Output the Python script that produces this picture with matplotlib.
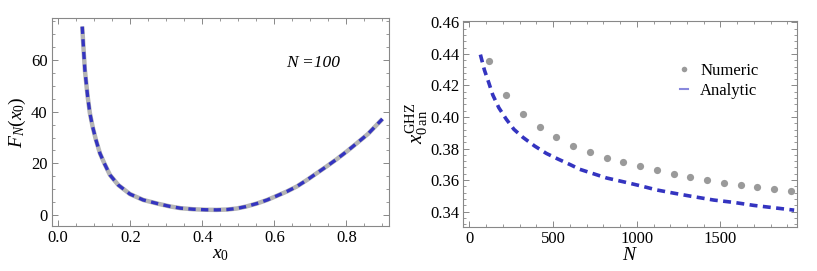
import numpy as np
import matplotlib
matplotlib.use('Agg')
import matplotlib.pyplot as plt
from matplotlib.ticker import MultipleLocator, FormatStrFormatter
from matplotlib.lines import Line2D

plt.rcParams['font.family'] = ['Liberation Serif', 'DejaVu Serif']
plt.rcParams['mathtext.fontset'] = 'custom'
plt.rcParams['mathtext.rm'] = 'Liberation Serif'
plt.rcParams['mathtext.it'] = 'Liberation Serif:italic'
plt.rcParams['mathtext.bf'] = 'Liberation Serif:bold'

# linke Kurve: F_N(x0) bei N=100
x0_werte = [0.0667, 0.0694, 0.074, 0.0817, 0.088, 0.0955, 0.1047, 0.1158, 0.128,
            0.1436, 0.1667, 0.199, 0.236, 0.278, 0.31, 0.34, 0.375, 0.41, 0.44,
            0.47, 0.4956, 0.52, 0.551, 0.58, 0.607, 0.635, 0.662, 0.69, 0.718,
            0.745, 0.773, 0.80, 0.829, 0.86, 0.90]
F_werte = [73.0, 66.5, 56.2, 45.9, 39.4, 34.2, 29.1, 23.9, 20.0,
           15.5, 11.6, 8.1, 5.8, 4.3, 3.3, 2.6, 2.2, 2.0, 1.95,
           2.1, 2.5, 3.2, 4.4, 5.8, 7.4, 9.1, 11.0, 13.5, 16.2,
           18.8, 21.6, 24.5, 27.8, 31.4, 37.2]

# rechte Kurve: numerisch und analytisch
N_num = [120, 220, 320, 420, 520, 620, 720, 820, 920, 1020, 1120, 1220, 1320,
         1420, 1520, 1620, 1720, 1820, 1920]
x_num = [0.4356, 0.414, 0.4019, 0.3935, 0.3871, 0.3818, 0.3778, 0.3742, 0.3712,
         0.3687, 0.3662, 0.364, 0.3617, 0.360, 0.3583, 0.3568, 0.3554, 0.3541, 0.3528]

N_an = [66, 90, 116, 140, 176, 220, 266, 320, 390, 460, 530, 604, 660, 820, 920,
        1020, 1120, 1220, 1320, 1460, 1580, 1700, 1820, 1940]
x_an = [0.4396, 0.4298, 0.4218, 0.414, 0.4059, 0.3987, 0.3922, 0.3871, 0.3816,
        0.3769, 0.3733, 0.3697, 0.3668, 0.3613, 0.3589, 0.3564, 0.3537, 0.3517,
        0.3498, 0.3473, 0.3458, 0.3439, 0.3424, 0.3409]

blau = '#3434c0'
grau = '#b4b4b4'
rahmen = '#888888'

fig = plt.figure(figsize=(8.17, 2.71), dpi=100)
ax1 = fig.add_axes([0.0633, 0.166, 0.4132, 0.7664])
ax2 = fig.add_axes([0.5671, 0.1635, 0.408, 0.760])

ax1.plot(x0_werte, F_werte, color=grau, lw=3.2, solid_capstyle='butt',
         solid_joinstyle='round')
ax1.plot(x0_werte, F_werte, color=blau, lw=2.4, dashes=(2.2, 1.6))
ax1.set_xlim(-0.018, 0.919)
ax1.set_ylim(-4.3, 76.2)
ax1.xaxis.set_major_locator(MultipleLocator(0.2))
ax1.xaxis.set_minor_locator(MultipleLocator(0.05))
ax1.yaxis.set_major_locator(MultipleLocator(20))
ax1.yaxis.set_minor_locator(MultipleLocator(5))
ax1.xaxis.set_major_formatter(FormatStrFormatter('%.1f'))
ax1.set_xlabel('$x_{\\mathit{0}}$', fontsize=14, labelpad=0)
ax1.set_ylabel('$F_N(x_{\\mathit{0}})$', fontsize=14, labelpad=2)
ax1.text(0.707, 58.9, 'N =100', fontsize=12.5, style='italic',
         ha='center', va='center')

ax2.plot(N_an, x_an, color=blau, lw=2.6, dashes=(2.2, 1.5))
ax2.plot(N_num, x_num, 'o', color='#9a9a9a', ms=5.2, mec='none')
ax2.set_xlim(-36, 1955)
ax2.set_ylim(0.3304, 0.4611)
ax2.xaxis.set_major_locator(MultipleLocator(500))
ax2.xaxis.set_minor_locator(MultipleLocator(100))
ax2.yaxis.set_major_locator(MultipleLocator(0.02))
ax2.yaxis.set_minor_locator(MultipleLocator(0.004))
ax2.yaxis.set_major_formatter(FormatStrFormatter('%.2f'))
ax2.set_xlabel('$N$', fontsize=14, labelpad=0)
ax2.set_ylabel('$x_{0\\,\\mathrm{an}}^{\\mathrm{GHZ}}$', fontsize=15, labelpad=0)

handles = [Line2D([], [], marker='o', ls='none', color='#9a9a9a', ms=4, mec='none'),
           Line2D([], [], color='#8888dd', lw=1.5)]
ax2.legend(handles, ['Numeric', 'Analytic'], loc='upper right',
           bbox_to_anchor=(0.93, 0.87), frameon=False, fontsize=12,
           handlelength=0.5, handletextpad=0.7, labelspacing=0.25)

for ax in (ax1, ax2):
    for s in ax.spines.values():
        s.set_color(rahmen)
        s.set_linewidth(0.8)
    ax.tick_params(which='both', direction='in', top=True, right=True,
                   color=rahmen, labelsize=12, pad=3)
    ax.tick_params(which='major', length=4, width=0.7)
    ax.tick_params(which='minor', length=2, width=0.6)

fig.savefig('out.png', dpi=100)
